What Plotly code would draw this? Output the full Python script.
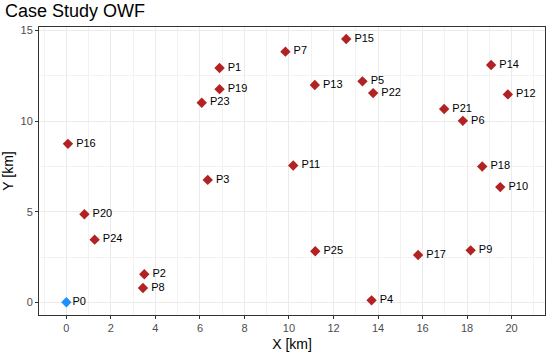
import plotly.graph_objects as go

# Data
names = ["P0", "P1", "P2", "P3", "P4", "P5", "P6", "P7", "P8", "P9",
         "P10", "P11", "P12", "P13", "P14", "P15", "P16", "P17", "P18", "P19",
         "P20", "P21", "P22", "P23", "P24", "P25"]
x_km = [0.0, 6.88, 3.50, 6.35, 13.71, 13.30, 17.81, 9.84, 3.44, 18.16,
        19.49, 10.19, 19.83, 11.16, 19.08, 12.57, 0.07, 15.80, 18.68, 6.88,
        0.81, 16.97, 13.78, 6.08, 1.27, 11.18]
y_km = [0.0, 12.94, 1.55, 6.76, 0.11, 12.20, 10.02, 13.84, 0.79, 2.87,
        6.36, 7.55, 11.48, 12.00, 13.10, 14.54, 8.75, 2.61, 7.50, 11.77,
        4.86, 10.67, 11.55, 11.02, 3.46, 2.82]
substation = ["P0"]

x_ticks = [0, 2, 4, 6, 8, 10, 12, 14, 16, 18, 20]
y_ticks = [0, 5, 10, 15]

FONT = "Liberation Sans, Arial, Helvetica, sans-serif"
RED = "#B22222"
BLUE = "#1E90FF"

turb_x = [x for x, n in zip(x_km, names) if n not in substation]
turb_y = [y for y, n in zip(y_km, names) if n not in substation]
turb_n = [n for n in names if n not in substation]
sub_x = [x for x, n in zip(x_km, names) if n in substation]
sub_y = [y for y, n in zip(y_km, names) if n in substation]
sub_n = [n for n in names if n in substation]

fig = go.Figure()
fig.add_trace(go.Scatter(
    x=turb_x, y=turb_y, text=turb_n, mode="markers+text",
    textposition="middle right", texttemplate="\u2009%{text}",
    marker=dict(symbol="diamond", size=8, color=RED),
    textfont=dict(family=FONT, size=11, color="black"),
    showlegend=False, cliponaxis=False, hoverinfo="skip"))
fig.add_trace(go.Scatter(
    x=sub_x, y=sub_y, text=sub_n, mode="markers+text",
    textposition="middle right",
    marker=dict(symbol="diamond", size=8, color=BLUE),
    textfont=dict(family=FONT, size=11, color="black"),
    showlegend=False, cliponaxis=False, hoverinfo="skip"))

axis_common = dict(
    automargin=False,
    showline=True, mirror=True, linecolor="#333333", linewidth=1,
    showgrid=True, gridcolor="#EBEBEB", gridwidth=1,
    zeroline=False, ticks="outside", ticklen=3, tickcolor="#333333", tickwidth=1,
    tickfont=dict(family=FONT, size=11, color="#4D4D4D"),
)

fig.update_xaxes(
    range=[-1.23, 21.5], tickvals=x_ticks,
    minor=dict(dtick=1, tick0=0, showgrid=True, gridcolor="#F2F2F2", gridwidth=0.6),
    title=dict(text="X [km]", font=dict(family=FONT, size=14, color="black"), standoff=5),
    **axis_common)
fig.update_yaxes(
    range=[-0.70, 15.2], tickvals=y_ticks,
    minor=dict(dtick=2.5, tick0=0, showgrid=True, gridcolor="#F2F2F2", gridwidth=0.6),
    title=dict(text="Y [km]", font=dict(family=FONT, size=14, color="black"), standoff=7),
    **axis_common)

fig.update_layout(
    width=550, height=354,
    margin=dict(l=39, r=5, t=27, b=39, autoexpand=False),
    paper_bgcolor="white", plot_bgcolor="white",
    title=dict(text="Case Study OWF", x=5/550, xref="container", xanchor="left",
               y=1 - 11/354, yref="container", yanchor="middle",
               font=dict(family=FONT, size=18, color="black")),
)

fig.write_html("out.html", config={"displayModeBar": False},
               post_script="document.body.style.margin='0';")
